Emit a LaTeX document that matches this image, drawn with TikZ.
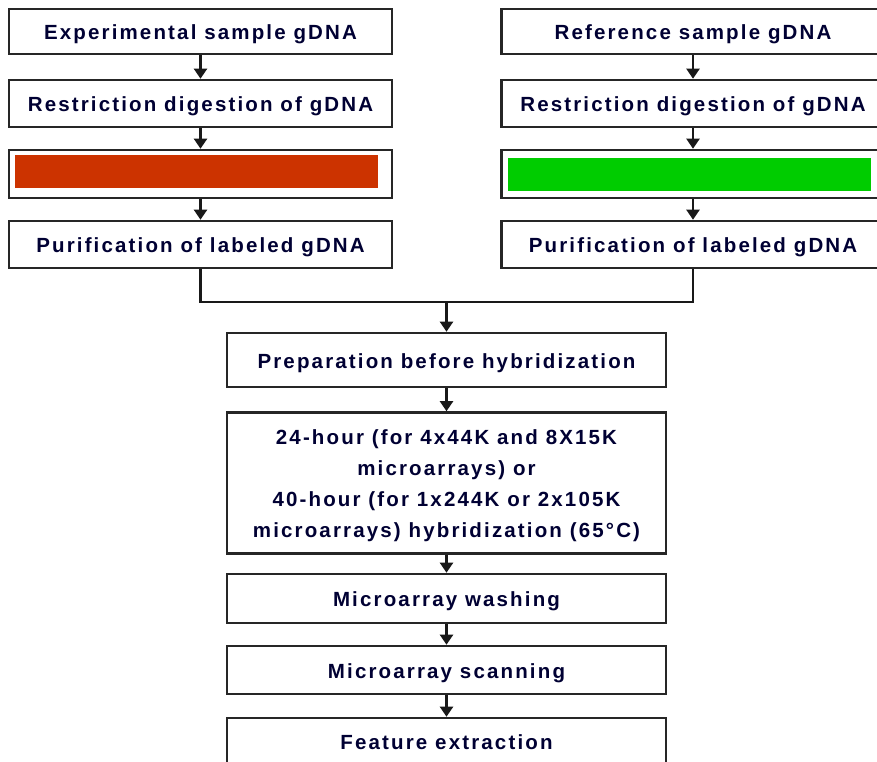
\documentclass[tikz,border=0pt]{standalone}
\usepackage{fontspec}
\setmainfont{Liberation Sans}[LetterSpace=10.5]
\usetikzlibrary{arrows.meta}
\definecolor{redfill}{HTML}{CC3300}
\definecolor{greenfill}{HTML}{00CC00}
\newcommand\dnstrut{\rule{0pt}{21pt}}
\begin{document}
\begin{tikzpicture}[x=1pt,y=-1pt,
  box/.style={draw=black!85, line width=2.6pt, fill=white, inner sep=0pt, align=center,
    font=\fontsize{20.5}{31}\selectfont\bfseries, text=black!80!blue},
  conn/.style={line width=2.2pt, draw=black!90, -{Triangle[width=13pt,length=10pt]}},
  line/.style={line width=2.2pt, draw=black!90}]
\useasboundingbox (0,0) rectangle (877,761);
\fill[white] (0,0) rectangle (877,761);
% left column
\node[box, minimum width=383pt, minimum height=45pt] (L1) at (200.5,31.5) {\dnstrut Experimental sample gDNA};
\node[box, minimum width=383pt, minimum height=47pt] (L2) at (200.5,103.5) {\dnstrut Restriction digestion of gDNA};
\node[box, minimum width=383pt, minimum height=48pt] (L3) at (200.5,174) {};
\node[box, minimum width=383pt, minimum height=47pt] (L4) at (200.5,244.5) {\dnstrut Purification of labeled gDNA};
\fill[redfill] (15,155) rectangle (378,188);
% right column
\node[box, minimum width=383pt, minimum height=45pt] (R1) at (693,31.5) {\dnstrut Reference sample gDNA};
\node[box, minimum width=383pt, minimum height=47pt] (R2) at (693,103.5) {\dnstrut Restriction digestion of gDNA};
\node[box, minimum width=383pt, minimum height=48pt] (R3) at (693,174) {};
\node[box, minimum width=383pt, minimum height=47pt] (R4) at (693,244.5) {\dnstrut Purification of labeled gDNA};
\fill[greenfill] (508,158) rectangle (871,191);
% centre column
\node[box, minimum width=439pt, minimum height=54pt] (C1) at (446.5,360) {\dnstrut Preparation before hybridization};
\node[box, minimum width=439pt, minimum height=141pt] (C2) at (446.5,483) {\dnstrut 24-hour (for 4x44K and 8X15K\\microarrays) or\\40-hour (for 1x244K or 2x105K\\microarrays) hybridization (65°C)};
\node[box, minimum width=439pt, minimum height=49pt] (C3) at (446.5,598.5) {\dnstrut Microarray washing};
\node[box, minimum width=439pt, minimum height=48pt] (C4) at (446.5,670) {\dnstrut Microarray scanning};
\node[box, minimum width=439pt, minimum height=48pt] (C5) at (446.5,742) {Feature extraction};
\coordinate (J) at (446.5,302);
% connectors
\draw[conn] (L1) -- (L2);
\draw[conn] (L2) -- (L3);
\draw[conn] (L3) -- (L4);
\draw[conn] (R1) -- (R2);
\draw[conn] (R2) -- (R3);
\draw[conn] (R3) -- (R4);
\draw[line] (L4.south) |- (J);
\draw[line] (R4.south) |- (J);
\draw[conn] (J) -- (C1);
\draw[conn] (C1) -- (C2);
\draw[conn] (C2) -- (C3);
\draw[conn] (C3) -- (C4);
\draw[conn] (C4) -- (C5);
\end{tikzpicture}
\end{document}
